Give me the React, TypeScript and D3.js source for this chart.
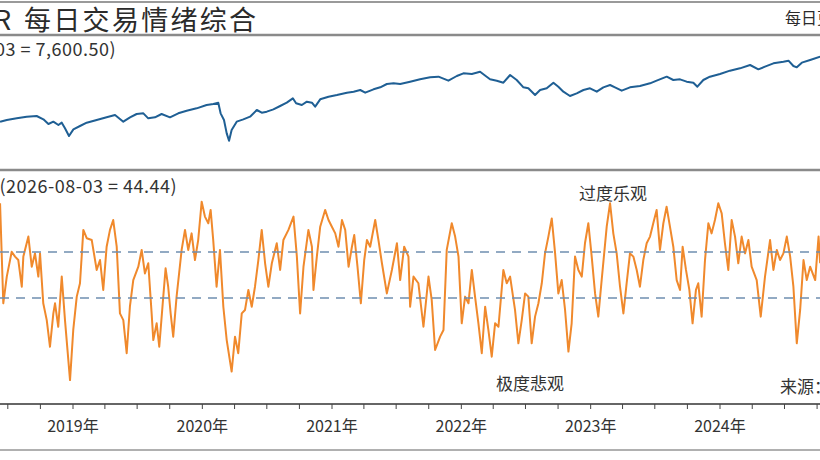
import React from "react";
import * as d3 from "d3";

const W = 820;
const H = 460;

// Sentiment composite (decimal year, value 0-100)
const sentimentT = [
  2018.436, 2018.461, 2018.488, 2018.526, 2018.552, 2018.577, 2018.604, 2018.616, 2018.655, 2018.681, 2018.706, 2018.732, 2018.745, 2018.770, 2018.797, 2018.822, 2018.848, 2018.861, 2018.886, 2018.913, 2018.938, 2018.977,
  2019.002, 2019.029, 2019.054, 2019.080, 2019.106, 2019.145, 2019.183, 2019.209, 2019.234, 2019.260, 2019.286, 2019.311, 2019.338, 2019.363, 2019.389, 2019.415, 2019.440, 2019.466, 2019.505, 2019.531, 2019.556, 2019.582, 2019.608, 2019.621, 2019.647, 2019.667, 2019.698, 2019.716, 2019.736, 2019.755, 2019.775, 2019.801, 2019.840, 2019.866, 2019.891, 2019.917, 2019.943, 2019.968, 2019.995,
  2020.020, 2020.046, 2020.064, 2020.084, 2020.110, 2020.136, 2020.162, 2020.188, 2020.226, 2020.252, 2020.277, 2020.304, 2020.329, 2020.355, 2020.381, 2020.406, 2020.432, 2020.458, 2020.484, 2020.509, 2020.536, 2020.574, 2020.600, 2020.625, 2020.664, 2020.703, 2020.729, 2020.754, 2020.780, 2020.818, 2020.845, 2020.857, 2020.883, 2020.909, 2020.947, 2020.973, 2020.999,
  2021.025, 2021.050, 2021.077, 2021.102, 2021.128, 2021.154, 2021.172, 2021.197, 2021.223, 2021.249, 2021.270, 2021.295, 2021.334, 2021.359, 2021.386, 2021.424, 2021.463, 2021.502, 2021.527, 2021.558, 2021.591, 2021.604,
  2021.630, 2021.668, 2021.707, 2021.746, 2021.771, 2021.797, 2021.836, 2021.862, 2021.887, 2021.926, 2021.952, 2021.978,
  2022.003, 2022.029, 2022.055, 2022.081, 2022.106, 2022.132, 2022.158, 2022.184, 2022.209, 2022.235, 2022.261, 2022.287, 2022.325, 2022.351, 2022.377, 2022.415, 2022.441, 2022.467, 2022.493, 2022.518, 2022.544, 2022.570, 2022.596, 2022.622, 2022.647, 2022.673, 2022.699, 2022.725, 2022.750, 2022.776, 2022.802, 2022.828, 2022.853, 2022.879, 2022.905, 2022.931, 2022.956, 2022.982,
  2023.008, 2023.034, 2023.059, 2023.085, 2023.124, 2023.150, 2023.175, 2023.201, 2023.227, 2023.253, 2023.278, 2023.304, 2023.330, 2023.356, 2023.381, 2023.407, 2023.433, 2023.459, 2023.484, 2023.510, 2023.536, 2023.562, 2023.587, 2023.613, 2023.639, 2023.665, 2023.691, 2023.711, 2023.737, 2023.763, 2023.788, 2023.814, 2023.832, 2023.858, 2023.884, 2023.910, 2023.935, 2023.961, 2023.987,
  2024.013, 2024.038, 2024.064, 2024.090, 2024.116, 2024.141, 2024.167, 2024.193, 2024.219, 2024.244, 2024.283, 2024.314, 2024.347, 2024.386, 2024.412, 2024.438, 2024.463, 2024.489, 2024.515, 2024.541, 2024.566, 2024.592, 2024.618, 2024.644, 2024.669, 2024.695, 2024.734, 2024.760, 2024.772,
];
const sentimentV = [
  81.2, 37.7, 49.3, 60.1, 58.0, 56.5, 44.9, 58.0, 66.7, 53.6, 59.4, 49.3, 59.4, 37.7, 30.4, 18.8, 33.3, 37.7, 27.5, 49.3, 30.4, 4.3,
  26.1, 40.6, 46.4, 69.6, 66.0, 65.2, 52.2, 56.5, 43.5, 62.3, 69.6, 73.9, 62.3, 33.3, 30.4, 16.0, 36.2, 47.8, 53.6, 60.9, 50.7, 55.1, 33.3, 21.7, 29.0, 18.8, 40.6, 52.9, 44.9, 33.3, 23.2, 40.6, 60.9, 69.6, 60.9, 68.1, 56.5, 65.2, 81.9,
  75.4, 72.5, 78.3, 65.2, 44.9, 60.9, 36.2, 21.7, 8.0, 23.2, 16.0, 33.3, 34.8, 43.5, 36.2, 44.9, 56.5, 69.6, 55.1, 44.9, 55.1, 63.8, 52.2, 65.2, 69.6, 75.4, 58.0, 33.3, 53.6, 69.6, 62.3, 43.5, 58.0, 71.0, 78.3, 73.9, 71.0,
  68.1, 62.3, 73.9, 69.6, 53.6, 62.3, 67.4, 53.6, 37.7, 56.5, 65.2, 62.3, 73.9, 65.2, 55.1, 42.0, 52.2, 63.8, 47.8, 62.3, 58.0, 36.2,
  49.3, 46.4, 27.5, 49.3, 39.1, 17.4, 23.2, 26.1, 60.9, 72.5, 66.7, 58.0,
  29.0, 40.6, 37.7, 52.2, 40.6, 29.0, 16.0, 36.2, 26.1, 14.5, 29.0, 27.5, 52.2, 46.4, 49.3, 34.8, 20.3, 30.4, 42.0, 40.6, 20.3, 31.9, 37.7, 46.4, 59.4, 66.7, 74.6, 59.4, 42.0, 47.8, 34.8, 16.7, 29.0, 58.0, 52.2, 49.3, 63.8, 72.5,
  58.0, 42.0, 31.9, 47.8, 71.0, 81.2, 68.1, 59.4, 44.9, 33.3, 46.4, 59.4, 58.0, 52.2, 44.9, 56.5, 63.8, 66.7, 72.5, 78.3, 60.9, 72.5, 79.7, 71.0, 62.3, 47.8, 43.5, 62.3, 52.2, 43.5, 29.0, 43.5, 46.4, 31.9, 56.5, 72.5, 68.1, 73.9, 81.2,
  76.8, 63.8, 52.2, 73.9, 66.7, 55.1, 66.7, 59.4, 65.2, 53.6, 47.8, 31.9, 49.3, 65.2, 52.2, 60.9, 56.5, 59.4, 66.7, 58.0, 44.9, 20.3, 34.8, 56.5, 47.8, 53.6, 47.8, 66.7, 55.1,
];

// Index level (decimal year, level)
const indexT = [
  2018.436, 2018.488, 2018.565, 2018.642, 2018.719, 2018.771, 2018.810, 2018.848, 2018.887, 2018.913, 2018.938, 2018.969,
  2019.003, 2019.054, 2019.106, 2019.183, 2019.260, 2019.325, 2019.389, 2019.441, 2019.492, 2019.544, 2019.582, 2019.634, 2019.685, 2019.750, 2019.814, 2019.879, 2019.956,
  2020.033, 2020.085, 2020.123, 2020.141, 2020.167, 2020.188, 2020.206, 2020.226, 2020.265, 2020.316, 2020.368, 2020.420, 2020.458, 2020.497, 2020.548, 2020.600, 2020.651, 2020.698, 2020.723, 2020.767, 2020.806, 2020.845, 2020.870, 2020.909, 2020.973,
  2021.038, 2021.115, 2021.167, 2021.218, 2021.257, 2021.321, 2021.373, 2021.424, 2021.476, 2021.527, 2021.604, 2021.681, 2021.759, 2021.823, 2021.900, 2021.965,
  2022.016, 2022.081, 2022.145, 2022.196, 2022.222, 2022.274, 2022.325, 2022.377, 2022.428, 2022.480, 2022.518, 2022.570, 2022.609, 2022.660, 2022.712, 2022.750, 2022.789, 2022.840, 2022.892, 2022.944, 2022.995,
  2023.047, 2023.098, 2023.150, 2023.188, 2023.240, 2023.304, 2023.381, 2023.459, 2023.510, 2023.588, 2023.639, 2023.691, 2023.742, 2023.794, 2023.825, 2023.871, 2023.922,
  2024.000, 2024.077, 2024.154, 2024.232, 2024.296, 2024.347, 2024.412, 2024.489, 2024.528, 2024.566, 2024.592, 2024.631, 2024.695, 2024.772,
];
const indexV = [
  4058, 4150, 4242, 4333, 4370, 4187, 3930, 4058, 3875, 4003, 3692, 3270,
  3637, 3820, 4003, 4150, 4297, 4425, 4058, 4297, 4480, 4517, 4242, 4297, 4480, 4297, 4517, 4663, 4792,
  4975, 5030, 5103, 4517, 4150, 3417, 3013, 3600, 4058, 4187, 4333, 4700, 4553, 4608, 4737, 4920, 5103, 5342, 5067, 4975, 5158, 5103, 4883, 5287, 5433,
  5525, 5653, 5708, 5800, 5653, 5837, 5947, 6130, 6167, 6130, 6258, 6387, 6497, 6533, 6313, 6570,
  6717, 6680, 6808, 6533, 6387, 6313, 6203, 6625, 6350, 5947, 5892, 5525, 5800, 5892, 6203, 5983, 5708, 5470, 5617, 5800, 5892,
  5708, 5947, 6075, 5947, 5763, 5947, 6020, 6167, 6313, 6533, 6350, 6387, 6258, 6203, 5983, 6350, 6533,
  6680, 6863, 6992, 7175, 6937, 7083, 7267, 7358, 7413, 7120, 7047, 7303, 7450, 7633,
];

const thresholds = [60, 40];
const yearLabels = [2019, 2020, 2021, 2022, 2023, 2024];

const titleLead = "R";
const titleText = "每日交易情绪综合";
const topRightText = "每日更新";
const indexNote = "(2026-08-03 = 7,600.50)";
const sentNote = "(2026-08-03 = 44.44)";
const noteHigh = "过度乐观";
const noteLow = "极度悲观";
const sourceText = "来源：";

const FONT = "'Noto Sans CJK SC', 'Noto Sans', sans-serif";

function yearToDate(t: number): Date {
  const y = Math.floor(t);
  const a = new Date(y, 0, 1).getTime();
  const b = new Date(y + 1, 0, 1).getTime();
  return new Date(a + (t - y) * (b - a));
}

export default function App() {
  const x = d3
    .scaleTime()
    .domain([new Date(2019, 0, 1), new Date(2024, 0, 1)])
    .range([73, 720]);
  const yTop = d3.scaleLinear().domain([2500, 8000]).range([150, 50]);
  const yBot = d3.scaleLinear().domain([0, 100]).range([390, 160]);

  const sentData = sentimentT.map((t, i) => ({ d: yearToDate(t), v: sentimentV[i] })).filter((p) => p.v != null);
  const idxData = indexT.map((t, i) => ({ d: yearToDate(t), v: indexV[i] })).filter((p) => p.v != null);

  const sentLine = d3
    .line<{ d: Date; v: number }>()
    .x((p) => x(p.d))
    .y((p) => yBot(p.v));
  const idxLine = d3
    .line<{ d: Date; v: number }>()
    .x((p) => x(p.d))
    .y((p) => yTop(p.v));

  const quarterTicks = d3.timeMonth.every(3)!.range(new Date(2018, 3, 1), new Date(2025, 3, 1));
  const axisY = 404;

  return (
    <svg
      width={W}
      height={H}
      style={{ position: "absolute", left: 0, top: 0, background: "#fff" }}
      fontFamily={FONT}
    >
      <rect x={0} y={0} width={W} height={H} fill="#fff" />
      {/* frame lines */}
      <line x1={0} x2={W} y1={2} y2={2} stroke="#9a9a9a" strokeWidth={2} />
      <line x1={0} x2={W} y1={35} y2={35} stroke="#8a8a8a" strokeWidth={2.5} />
      <line x1={0} x2={W} y1={170} y2={170} stroke="#8a8a8a" strokeWidth={2.5} />
      <line x1={0} x2={W} y1={450} y2={450} stroke="#b0b0b0" strokeWidth={2} />

      {/* title */}
      <text y={30} fontSize={27} fill="#2b2b2b">
        <tspan x={-6}>{titleLead}</tspan>
        <tspan x={24} letterSpacing={2.3}>{titleText}</tspan>
      </text>
      <text x={785} y={24} fontSize={16} fill="#2b2b2b">
        {topRightText}
      </text>
      <text x={116} y={56} fontSize={18} fill="#333" textAnchor="end" letterSpacing={0.5}>
        {indexNote}
      </text>

      {/* index line */}
      <path d={idxLine(idxData) || ""} fill="none" stroke="#1f5f94" strokeWidth={2} strokeLinejoin="round" />

      {/* sentiment panel */}
      <text x={177} y={193} fontSize={18} fill="#333" textAnchor="end" letterSpacing={0.5}>
        {sentNote}
      </text>
      <path d={sentLine(sentData) || ""} fill="none" stroke="#f0892c" strokeWidth={2} strokeLinejoin="round" />
      {thresholds.map((v) => (
        <line
          key={v}
          x1={0}
          x2={W}
          y1={yBot(v)}
          y2={yBot(v)}
          stroke="#6f8fb0"
          strokeWidth={1.5}
          strokeDasharray="9,7"
        />
      ))}
      <text x={613} y={200} fontSize={17} fill="#333" textAnchor="middle">
        {noteHigh}
      </text>
      <text x={530} y={390} fontSize={17} fill="#333" textAnchor="middle">
        {noteLow}
      </text>
      <text x={780} y={393} fontSize={17} fill="#333">
        {sourceText}
      </text>

      {/* x axis */}
      <line x1={0} x2={W} y1={axisY} y2={axisY} stroke="#333" strokeWidth={1.5} />
      {quarterTicks.map((d, i) => (
        <line key={i} x1={x(d)} x2={x(d)} y1={axisY} y2={axisY + 5} stroke="#444" strokeWidth={1} />
      ))}
      {yearLabels.map((yr) => (
        <text key={yr} x={x(new Date(yr, 0, 1))} y={432} fontSize={16} fill="#333" textAnchor="middle">
          {yr}年
        </text>
      ))}
    </svg>
  );
}
